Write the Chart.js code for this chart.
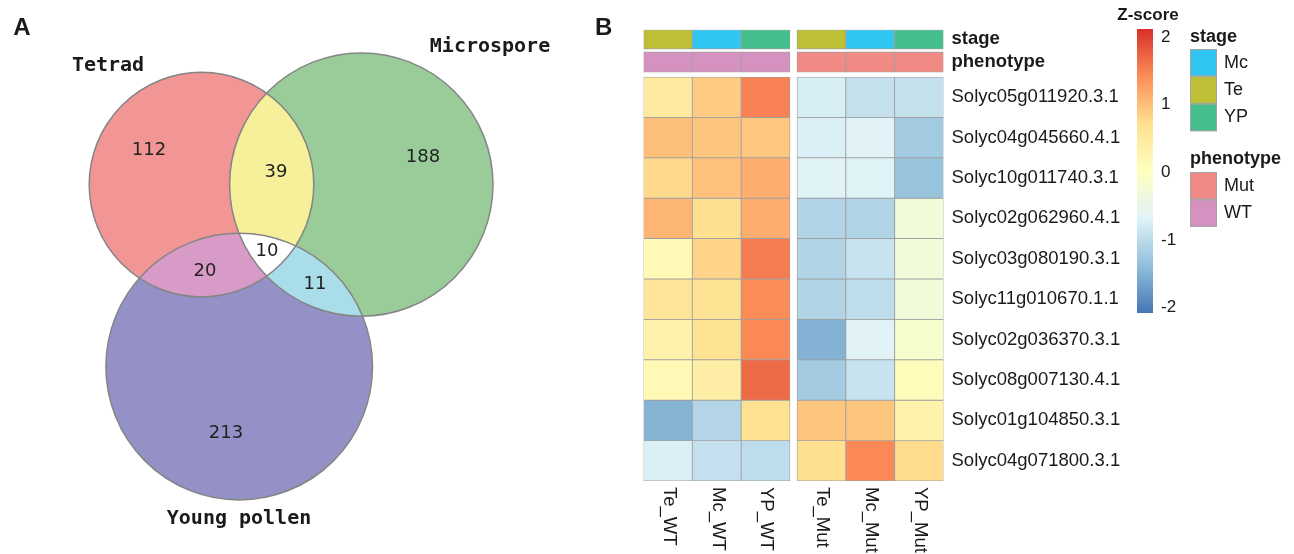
<!DOCTYPE html>
<html>
<head>
<meta charset="utf-8">
<script src="https://cdn.jsdelivr.net/npm/chart.js@4.4.1/dist/chart.umd.min.js"></script>
<style>
  html, body { margin: 0; padding: 0; background: #fff; }
  #wrap { position: relative; width: 1294px; height: 554px; overflow: hidden; }
  canvas { position: absolute; top: 0; }
  #venn { left: 0; }
  #heat { left: 580px; }
  #zbar { left: 1100px; }
</style>
</head>
<body>
<div id="wrap">
  <canvas id="venn" width="580" height="554"></canvas>
  <canvas id="heat" width="714" height="554"></canvas>
  <canvas id="zbar" width="100" height="554"></canvas>
</div>
<script>
// ---- panel A: Venn counts ----
var setNames = ['Tetrad', 'Microspore', 'Young pollen'];
var regionNames = ['Tetrad only', 'Microspore only', 'Young pollen only',
                   'Tetrad+Microspore', 'Tetrad+Young pollen', 'Microspore+Young pollen', 'all three'];
var regionCounts = [112, 188, 213, 39, 20, 11, 10];

// ---- panel B: heatmap ----
var sampleNames = ['Te_WT', 'Mc_WT', 'YP_WT', 'Te_Mut', 'Mc_Mut', 'YP_Mut'];
var sampleStage = ['Te', 'Mc', 'YP', 'Te', 'Mc', 'YP'];
var samplePhenotype = ['WT', 'WT', 'WT', 'Mut', 'Mut', 'Mut'];
var geneNames = ['Solyc05g011920.3.1', 'Solyc04g045660.4.1', 'Solyc10g011740.3.1', 'Solyc02g062960.4.1',
                 'Solyc03g080190.3.1', 'Solyc11g010670.1.1', 'Solyc02g036370.3.1', 'Solyc08g007130.4.1',
                 'Solyc01g104850.3.1', 'Solyc04g071800.3.1'];
// z-score per gene (rows) and sample (columns, same order as sampleNames)
var zScores = [
  [0.50, 0.90, 1.50, -0.75, -0.92, -0.92],
  [1.00, 0.95, 0.93, -0.72, -0.66, -1.23],
  [0.78, 0.98, 1.15, -0.67, -0.67, -1.33],
  [1.08, 0.72, 1.15, -1.10, -1.10, -0.30],
  [0.16, 0.82, 1.55, -1.10, -0.90, -0.30],
  [0.62, 0.65, 1.43, -1.10, -0.98, -0.30],
  [0.30, 0.68, 1.45, -1.50, -0.66, -0.15],
  [0.15, 0.40, 1.68, -1.22, -0.90, 0.10],
  [-1.48, -1.08, 0.70, 0.95, 0.95, 0.30],
  [-0.72, -0.93, -0.98, 0.72, 1.45, 0.76]
];
var zTicks = [2, 1, 0, -1, -2];
var stageLevels = ['Mc', 'Te', 'YP'];
var phenotypeLevels = ['Mut', 'WT'];

// ---- styling / layout ----
var sans = "'Liberation Sans', Arial, sans-serif";
var ink = '#1a1a1a';
var setColors = ['#f29595', '#99cc99', '#9391c6'];
var pairColors = { ab: '#f6f09b', ac: '#d89bc8', bc: '#a9dde9', abc: '#ffffff' };
// circle centres/radii in venn units (x 0..580, y 0..554)
var vennCircles = [{ x: 201.5, y: 184.6, r: 112.3 }, { x: 361.3, y: 184.6, r: 131.7 }, { x: 239.2, y: 366.6, r: 133.3 }];
var vennNamePos = [{ x: 108, y: 66 }, { x: 490, y: 47 }, { x: 239, y: 519 }];
var regionPos = [{ x: 149, y: 150 }, { x: 423, y: 157 }, { x: 226, y: 433 }, { x: 276, y: 172 },
                 { x: 205, y: 271 }, { x: 315, y: 284 }, { x: 267, y: 251 }];

var stageColors = { Te: '#bdbf34', Mc: '#30c6f1', YP: '#44be8c' };
var phenotypeColors = { WT: '#d592c0', Mut: '#f18a84' };
var zPalette = ['#4575B4', '#91BFDB', '#E0F3F8', '#FFFFBF', '#FEE090', '#FC8D59', '#D73027'];
var zMin = -2.08, zMax = 2.12;
var colX = [0, 1, 2, 3.143, 4.143, 5.143]; // small gap between WT and Mut blocks
var stageSpan = [-1.17, -0.69], phenotypeSpan = [-0.62, -0.12];

function hexToRgb(h) {
  return [parseInt(h.substr(1, 2), 16), parseInt(h.substr(3, 2), 16), parseInt(h.substr(5, 2), 16)];
}

function zColor(z) {
  var n = zPalette.length - 1;
  var t = Math.max(0, Math.min(n, (z - zMin) / (zMax - zMin) * n));
  var i = Math.min(Math.floor(t), n - 1), f = t - i;
  var a = hexToRgb(zPalette[i]), b = hexToRgb(zPalette[i + 1]);
  return 'rgb(' + [0, 1, 2].map(function (k) { return Math.round(a[k] + (b[k] - a[k]) * f); }).join(',') + ')';
}

// ================= Venn =================
var vennPlugin = {
  id: 'vennOverlaps',
  afterDatasetsDraw: function (chart) {
    var ctx = chart.ctx;
    var c = chart.getDatasetMeta(0).data;
    function path(i) {
      ctx.beginPath();
      ctx.arc(c[i].x, c[i].y, c[i].options.radius, 0, Math.PI * 2);
    }
    function overlap(clips, target, color) {
      ctx.save();
      clips.forEach(function (i) { path(i); ctx.clip(); });
      path(target);
      ctx.fillStyle = color;
      ctx.fill();
      ctx.restore();
    }
    overlap([0], 1, pairColors.ab);
    overlap([0], 2, pairColors.ac);
    overlap([1], 2, pairColors.bc);
    overlap([0, 1], 2, pairColors.abc);

    ctx.save();
    ctx.strokeStyle = '#858585';
    ctx.lineWidth = 1.5;
    [0, 1, 2].forEach(function (i) { path(i); ctx.stroke(); });

    // counts
    ctx.fillStyle = '#222';
    ctx.textAlign = 'center';
    ctx.textBaseline = 'middle';
    ctx.font = "18px 'DejaVu Sans', sans-serif";
    chart.getDatasetMeta(1).data.forEach(function (p, i) {
      ctx.fillText(String(regionCounts[i]), p.x, p.y);
    });

    // set names
    var xs = chart.scales.x, ys = chart.scales.y;
    ctx.fillStyle = ink;
    ctx.font = "bold 20px 'DejaVu Sans Mono', monospace";
    setNames.forEach(function (name, i) {
      ctx.fillText(name, xs.getPixelForValue(vennNamePos[i].x), ys.getPixelForValue(vennNamePos[i].y));
    });

    ctx.font = 'bold 24px ' + sans;
    ctx.fillText('A', 22, 28);
    ctx.restore();
  }
};

var vennChart = new Chart(document.getElementById('venn'), {
  type: 'bubble',
  data: {
    datasets: [{
      label: 'sets',
      data: vennCircles.map(function (v) { return { x: v.x, y: v.y, r: v.r }; }),
      backgroundColor: setColors,
      borderWidth: 0
    }, {
      type: 'scatter',
      label: 'regions',
      data: regionPos.map(function (p, i) { return { x: p.x, y: p.y, name: regionNames[i] }; }),
      pointRadius: 0
    }]
  },
  options: {
    responsive: false,
    animation: false,
    events: [],
    layout: { padding: 0, autoPadding: false },
    plugins: { legend: { display: false }, tooltip: { enabled: false } },
    scales: {
      x: { type: 'linear', display: false, min: 0, max: 580 },
      y: { type: 'linear', display: false, min: 0, max: 554, reverse: true }
    }
  },
  plugins: [vennPlugin]
});

// ================= heatmap =================
var rowNames = ['stage', 'phenotype'].concat(geneNames);
var rowSpans = [stageSpan, phenotypeSpan].concat(geneNames.map(function (g, i) { return [i, i + 1]; }));
var rowFills = [
  sampleStage.map(function (s) { return stageColors[s]; }),
  samplePhenotype.map(function (p) { return phenotypeColors[p]; })
].concat(zScores.map(function (row) { return row.map(zColor); }));

var heatDatasets = rowNames.map(function (name, r) {
  return {
    label: name,
    data: colX.map(function (x) { return { x: x, y: rowSpans[r] }; }),
    backgroundColor: rowFills[r],
    borderColor: '#a0a0a0',
    borderWidth: 0.8,
    borderSkipped: false,
    grouped: false,
    barPercentage: 1,
    categoryPercentage: 1
  };
});

var heatText = {
  id: 'heatText',
  afterDraw: function (chart) {
    var ctx = chart.ctx, xs = chart.scales.x, ys = chart.scales.y, area = chart.chartArea;
    ctx.save();
    ctx.fillStyle = ink;
    ctx.textBaseline = 'middle';
    ctx.textAlign = 'left';

    // row names
    rowSpans.forEach(function (span, i) {
      ctx.font = (i < 2 ? 'bold ' : '') + '18.5px ' + sans;
      ctx.fillText(rowNames[i], area.right + 8, ys.getPixelForValue((span[0] + span[1]) / 2));
    });

    // sample names, reading downwards
    ctx.font = '18.5px ' + sans;
    colX.forEach(function (v, j) {
      ctx.save();
      ctx.translate(xs.getPixelForValue(v) + 1, area.bottom + 6);
      ctx.rotate(Math.PI / 2);
      ctx.fillText(sampleNames[j], 0, 0);
      ctx.restore();
    });

    ctx.font = 'bold 24px ' + sans;
    ctx.fillText('B', 15, 28);

    // annotation legend
    var lx = 610, bw = 27, bh = 27.4;
    var groups = [
      { title: 'stage', keys: stageLevels, colors: stageColors, top: 37, boxTop: 49 },
      { title: 'phenotype', keys: phenotypeLevels, colors: phenotypeColors, top: 159, boxTop: 172 }
    ];
    groups.forEach(function (g) {
      ctx.font = 'bold 18px ' + sans;
      ctx.fillStyle = ink;
      ctx.fillText(g.title, lx, g.top);
      g.keys.forEach(function (k, i) {
        var y = g.boxTop + i * bh;
        ctx.fillStyle = g.colors[k];
        ctx.fillRect(lx, y, bw, bh);
        ctx.strokeStyle = '#a3a3a3';
        ctx.lineWidth = 1;
        ctx.strokeRect(lx + 0.5, y + 0.5, bw - 1, bh - 1);
        ctx.fillStyle = ink;
        ctx.font = '18px ' + sans;
        ctx.fillText(k, lx + bw + 7, y + bh / 2);
      });
    });
    ctx.restore();
  }
};

var heatChart = new Chart(document.getElementById('heat'), {
  type: 'bar',
  data: { datasets: heatDatasets },
  options: {
    responsive: false,
    animation: false,
    events: [],
    layout: { padding: { left: 63.5, right: 350.5, top: 29.7, bottom: 73 }, autoPadding: false },
    plugins: { legend: { display: false }, tooltip: { enabled: false } },
    scales: {
      x: {
        type: 'linear', display: false, offset: false, min: -0.5, max: 5.643,
        afterBuildTicks: function (s) { s.ticks = colX.map(function (v) { return { value: v }; }); }
      },
      y: { type: 'linear', display: false, min: stageSpan[0], max: geneNames.length, reverse: true }
    }
  },
  plugins: [heatText]
});

// ================= colour key =================
var zTitle = {
  id: 'zTitle',
  afterDraw: function (chart) {
    var ctx = chart.ctx;
    ctx.save();
    ctx.fillStyle = ink;
    ctx.font = 'bold 17px ' + sans;
    ctx.textAlign = 'center';
    ctx.textBaseline = 'middle';
    ctx.fillText('Z-score', 48, 15);
    ctx.restore();
  }
};

var zChart = new Chart(document.getElementById('zbar'), {
  type: 'bar',
  data: {
    labels: ['Z-score'],
    datasets: [{
      data: [[zMin, zMax]],
      backgroundColor: function (c) {
        var chart = c.chart;
        if (!chart.chartArea) return zPalette[3];
        var ys = chart.scales.y;
        var g = chart.ctx.createLinearGradient(0, ys.getPixelForValue(zMin), 0, ys.getPixelForValue(zMax));
        zPalette.forEach(function (col, i) { g.addColorStop(i / (zPalette.length - 1), col); });
        return g;
      },
      borderWidth: 0,
      barPercentage: 1,
      categoryPercentage: 1
    }]
  },
  options: {
    responsive: false,
    animation: false,
    events: [],
    layout: { padding: { left: 37, right: 7, top: 29, bottom: 241 }, autoPadding: false },
    plugins: { legend: { display: false }, tooltip: { enabled: false } },
    scales: {
      x: { display: false },
      y: {
        position: 'right', min: zMin, max: zMax,
        grid: { display: false, drawTicks: false },
        border: { display: false },
        ticks: { padding: 8, color: ink, font: { size: 17, family: sans } },
        afterBuildTicks: function (s) { s.ticks = zTicks.map(function (v) { return { value: v }; }); },
        afterFit: function (s) { s.width = 40; }
      }
    }
  },
  plugins: [zTitle]
});
</script>
</body>
</html>
